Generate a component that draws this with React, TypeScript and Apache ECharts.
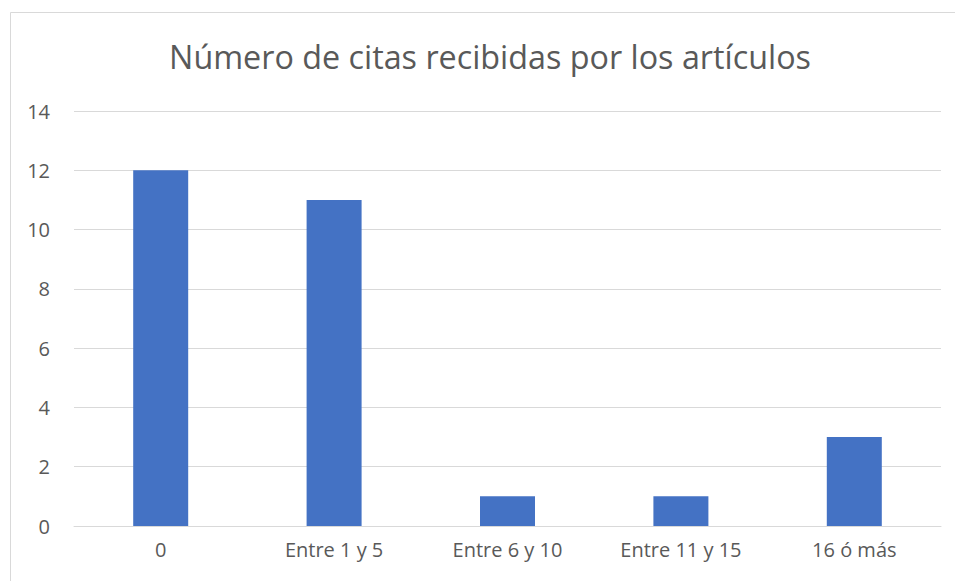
import React, { useEffect, useRef } from "react";
import * as echarts from "echarts";

const title = "Número de citas recibidas por los artículos";
const categories = ["0", "Entre 1 y 5", "Entre 6 y 10", "Entre 11 y 15", "16 ó más"];
const values = [12, 11, 1, 1, 3];

export default function App() {
  const ref = useRef<HTMLDivElement>(null);
  useEffect(() => {
    if (!ref.current) return;
    const chart = echarts.init(ref.current, null, { renderer: "svg" });
    const font = "'Open Sans', 'Noto Sans', sans-serif";
    chart.setOption({
      animation: false,
      backgroundColor: "#ffffff",
      title: {
        text: title,
        left: 485,
        top: 35,
        textAlign: "center",
        textStyle: { fontFamily: font, fontSize: 32.3, fontWeight: "normal", color: "#595959" },
      },
      graphic: [
        {
          type: "rect",
          shape: { x: 10.5, y: 12.5, width: 960, height: 600 },
          style: { fill: "none", stroke: "#d9d9d9", lineWidth: 1 },
          silent: true,
        },
      ],
      grid: { left: 74, right: 14, top: 111, bottom: 55, containLabel: false },
      xAxis: {
        type: "category",
        data: categories,
        axisLine: { show: true, lineStyle: { color: "#d9d9d9", width: 1 } },
        axisTick: { show: false },
        axisLabel: { fontFamily: font, fontSize: 20, color: "#595959", margin: 13 },
      },
      yAxis: {
        type: "value",
        min: 0,
        max: 14,
        interval: 2,
        axisLine: { show: false },
        axisTick: { show: false },
        splitLine: { lineStyle: { color: "#d9d9d9", width: 1 } },
        axisLabel: { fontFamily: font, fontSize: 20, color: "#595959", margin: 24 },
      },
      series: [
        {
          type: "bar",
          data: values,
          barWidth: 55,
          itemStyle: { color: "#4472c4" },
        },
      ],
    });
    return () => chart.dispose();
  }, []);
  return (
    <div
      ref={ref}
      style={{ position: "fixed", left: 0, top: 0, width: 955, height: 581, background: "#fff" }}
    />
  );
}
